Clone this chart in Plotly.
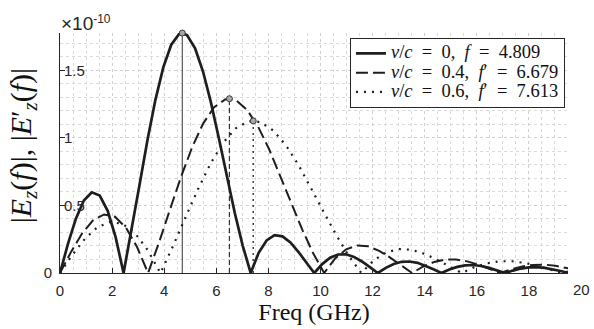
import plotly.graph_objects as go

# ---- data (values in units of 1e-10) ----
freq_v0 = [0, 0.305, 0.61, 0.915, 1.22, 1.525, 1.83, 2.135, 2.44, 2.745, 3.05, 3.355, 3.66, 3.965, 4.27, 4.575,
           4.695,
           4.88, 5.185, 5.49, 5.795, 6.1, 6.405, 6.71, 7.015, 7.32,
           7.625, 7.93, 8.235, 8.54, 8.845, 9.15, 9.455, 9.76,
           10.065, 10.37, 10.675, 10.98, 11.285, 11.59, 11.895, 12.2,
           12.505, 12.81, 13.115, 13.42, 13.725, 14.03, 14.335, 14.64,
           14.945, 15.25, 15.555, 15.86, 16.165, 16.47, 16.775, 17.08,
           17.385, 17.69, 17.995, 18.3, 18.605, 18.91, 19.215, 19.52]
E_v0 = [0, 0.215, 0.402, 0.536, 0.597, 0.573, 0.460, 0.265, 0, 0.313, 0.649, 0.980, 1.279, 1.521, 1.688, 1.768,
        1.775,
        1.758, 1.661, 1.490, 1.260, 0.995, 0.715, 0.444, 0.201, 0,
        0.149, 0.241, 0.280, 0.271, 0.226, 0.157, 0.078, 0,
        0.066, 0.113, 0.137, 0.138, 0.119, 0.085, 0.043, 0,
        0.038, 0.067, 0.083, 0.085, 0.075, 0.054, 0.028, 0,
        0.026, 0.045, 0.056, 0.059, 0.052, 0.038, 0.020, 0,
        0.018, 0.033, 0.041, 0.043, 0.038, 0.028, 0.015, 0]

freq_v04 = [0, 0.423, 0.845, 1.268, 1.69, 2.113, 2.535, 2.958, 3.38, 3.803, 4.225, 4.648, 5.07, 5.493, 5.915, 6.338,
            6.503,
            6.76, 7.183, 7.605, 8.028, 8.45, 8.873, 9.295, 9.718, 10.14,
            10.563, 10.985, 11.408, 11.83, 12.253, 12.675, 13.098, 13.52,
            13.943, 14.365, 14.788, 15.21, 15.633, 16.055, 16.478, 16.9,
            17.323, 17.745, 18.168, 18.59, 19.013, 19.435, 19.858]
E_v04 = [0, 0.156, 0.292, 0.389, 0.433, 0.416, 0.334, 0.192, 0, 0.227, 0.472, 0.712, 0.929, 1.105, 1.226, 1.284,
         1.289,
         1.277, 1.206, 1.082, 0.915, 0.722, 0.520, 0.323, 0.146, 0,
         0.108, 0.175, 0.203, 0.197, 0.164, 0.114, 0.056, 0,
         0.048, 0.082, 0.099, 0.100, 0.086, 0.062, 0.031, 0,
         0.028, 0.049, 0.060, 0.062, 0.054, 0.040, 0.020]

freq_v06 = [0, 0.482, 0.964, 1.446, 1.928, 2.409, 2.891, 3.373, 3.855, 4.337, 4.819, 5.301, 5.783, 6.264, 6.746, 7.228,
            7.417,
            7.71, 8.192, 8.674, 9.156, 9.638, 10.119, 10.601, 11.083, 11.565,
            12.047, 12.529, 13.011, 13.493, 13.974, 14.456, 14.938, 15.42,
            15.902, 16.384, 16.866, 17.348, 17.829, 18.311, 18.793, 19.275,
            19.757]
E_v06 = [0, 0.136, 0.255, 0.340, 0.378, 0.363, 0.292, 0.168, 0, 0.199, 0.412, 0.621, 0.811, 0.964, 1.070, 1.121,
         1.125,
         1.114, 1.053, 0.944, 0.799, 0.631, 0.453, 0.282, 0.127, 0,
         0.094, 0.153, 0.177, 0.172, 0.143, 0.100, 0.049, 0,
         0.042, 0.071, 0.087, 0.087, 0.075, 0.054, 0.027, 0,
         0.024]

peak_freq = [4.695, 6.503, 7.417]
peak_val = [1.775, 1.289, 1.125]

EQ = "\u2002=\u2002"
series_names = [
    "<i>v</i>/<i>c</i>" + EQ + "0,\u2002<i>f</i>" + EQ + "4.809",
    "<i>v</i>/<i>c</i>" + EQ + "0.4,\u2002<i>f</i>\u2032" + EQ + "6.679",
    "<i>v</i>/<i>c</i>" + EQ + "0.6,\u2002<i>f</i>\u2032" + EQ + "7.613",
]
x_tick_vals = [0, 2, 4, 6, 8, 10, 12, 14, 16, 18]
x_extra_label = 20
y_tick_vals = [0, 0.5, 1, 1.5]
y_tick_text = ["0", "0.5", "1", "1.5"]
X_MAX = 19.5
Y_MAX = 1.775

# ---- styles ----
INK = "#1e1e1e"
AX = "#262626"
SERIF = "Liberation Serif, DejaVu Serif, serif"
SANS = "Liberation Sans, Arial, sans-serif"
line_styles = [
    dict(color=INK, width=2.7, dash="solid"),
    dict(color=INK, width=2.0, dash="12px,5px"),
    dict(color=INK, width=2.2, dash="2px,6px"),
]
vline_styles = [
    dict(color="#555555", width=1.2, dash="solid"),
    dict(color="#333333", width=1.2, dash="5px,3px"),
    dict(color="#333333", width=1.4, dash="2px,4px"),
]

fig = go.Figure()
series = [(freq_v0, E_v0), (freq_v04, E_v04), (freq_v06, E_v06)]
for i, (fx, fy) in enumerate(series):
    fig.add_trace(go.Scatter(x=[peak_freq[i], peak_freq[i]], y=[0, peak_val[i]], mode="lines",
                             line=vline_styles[i], showlegend=False, hoverinfo="skip"))
for i, (fx, fy) in enumerate(series):
    fig.add_trace(go.Scatter(x=fx, y=fy, mode="lines",
                             name='<span style="font-size:18.5px">' + series_names[i] + '</span>',
                             line=line_styles[i]))
fig.add_trace(go.Scatter(x=peak_freq, y=peak_val, mode="markers", showlegend=False,
                         marker=dict(symbol="circle", size=6, color="#a8a8a8",
                                     line=dict(color="#3a3a3a", width=1)),
                         cliponaxis=False, hoverinfo="skip"))

grid_major = "#cfcfcf"
grid_minor = "#dadada"

fig.update_layout(
    width=594, height=329,
    margin=dict(l=60, r=26, t=33, b=50),
    paper_bgcolor="white", plot_bgcolor="white",
    showlegend=True,
    legend=dict(x=0.994, y=0.98, xanchor="right", yanchor="top",
                bgcolor="white", bordercolor=AX, borderwidth=1,
                font=dict(family=SERIF, size=12.5, color="#111"),
                tracegroupgap=0, itemwidth=30),
    xaxis=dict(range=[0, X_MAX], tickmode="array", tickvals=x_tick_vals,
               ticks="inside", ticklen=5, tickcolor=AX, tickwidth=1,
               showline=True, linecolor=AX, linewidth=1,
               showgrid=True, gridcolor=grid_major, griddash="dot", gridwidth=1,
               minor=dict(tickmode="linear", tick0=0, dtick=0.5, showgrid=True,
                          gridcolor=grid_minor, griddash="dot", gridwidth=1),
               zeroline=False,
               tickfont=dict(family=SANS, size=15, color=AX),
               ticklabelstandoff=4,
               title=dict(text="Freq (GHz)", font=dict(family=SERIF, size=24, color="#111"), standoff=1)),
    yaxis=dict(range=[0, Y_MAX], tickmode="array", tickvals=y_tick_vals,
               ticktext=["0", "", "", ""],
               ticks="inside", ticklen=5, tickcolor=AX, tickwidth=1,
               showline=True, linecolor=AX, linewidth=1,
               showgrid=True, gridcolor=grid_major, griddash="dot", gridwidth=1,
               minor=dict(tickmode="linear", tick0=0, dtick=0.1, showgrid=True,
                          gridcolor=grid_minor, griddash="dot", gridwidth=1),
               zeroline=False,
               tickfont=dict(family=SANS, size=15, color=AX),
               ticklabelstandoff=4),
)

annotations = []
for v, t in zip(y_tick_vals[1:], y_tick_text[1:]):
    annotations.append(dict(x=0, xref="paper", xanchor="left", xshift=2, y=v, yref="y", yanchor="middle",
                            text=t, showarrow=False, font=dict(family=SANS, size=15, color=AX)))
annotations.append(dict(x=x_extra_label / X_MAX, xref="paper", xanchor="center", y=0, yref="paper",
                        yanchor="top", yshift=-6, text=str(x_extra_label), showarrow=False,
                        font=dict(family=SANS, size=15, color=AX)))
annotations.append(dict(x=0, xref="paper", xanchor="left", xshift=-1, y=1, yref="paper", yanchor="bottom",
                        yshift=-3, text='\u00d710<span style="font-size:17px"><sup>-10</sup></span>',
                        showarrow=False, font=dict(family=SANS, size=19, color=AX)))
annotations.append(dict(x=-0.074, xref="paper", xanchor="center", y=0.53, yref="paper", yanchor="middle",
                        textangle=-90, showarrow=False,
                        text="|<i>E</i><sub><i>z</i></sub>(<i>f</i>)|, |<i>E</i>\u2032<sub><i>z</i></sub>(<i>f</i>)|",
                        font=dict(family=SERIF, size=30, color="#111")))
fig.update_layout(annotations=annotations)

fig.write_html("out.html")
